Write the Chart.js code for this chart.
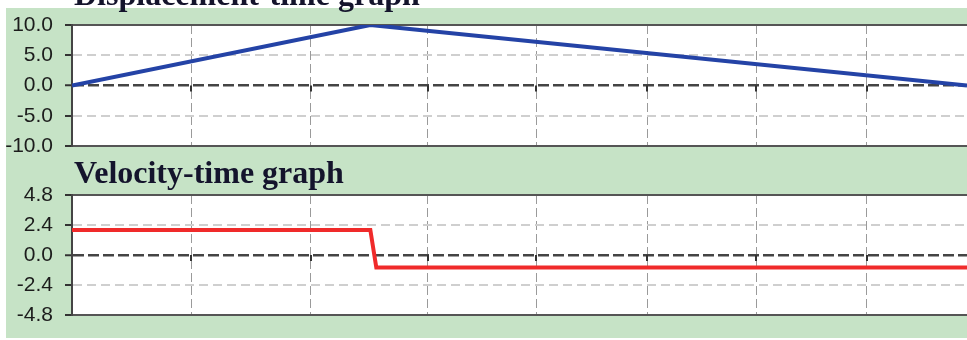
<!DOCTYPE html>
<html lang="en">
<head>
<meta charset="UTF-8">
<title>Displacement-time and velocity-time graphs</title>
<script src="https://cdn.jsdelivr.net/npm/chart.js@4.4.0/dist/chart.umd.min.js"></script>
<style>
    html, body { margin: 0; padding: 0; background: #fff; overflow: hidden; }
    body { width: 967px; height: 340px; position: relative; }
    .panel { position: absolute; left: 6px; top: 8px; width: 961px; height: 330px; background: #c6e3c6; }
    .title {
        position: absolute;
        left: 74px;
        font: bold 32px "Liberation Serif", "Times New Roman", serif;
        line-height: 32px;
        color: #14142c;
        white-space: nowrap;
        z-index: 2;
    }
    .box { position: absolute; left: 0; }
    #dispBox { top: -1px; }
    #velBox { top: 169px; }
</style>
</head>
<body>
<div class="panel"></div>
<div class="title" style="top:-22px">Displacement-time graph</div>
<div class="title" style="top:156px">Velocity-time graph</div>
<div class="box" id="dispBox"><canvas id="dispChart" width="967" height="173"></canvas></div>
<div class="box" id="velBox"><canvas id="velChart" width="967" height="172"></canvas></div>

<script>
// time axis (s)
const tMax = 15;
const gridTimes = [2.0, 4.0, 5.96, 7.78, 9.64, 11.47, 13.32];

// displacement (m)
const dispTimes = [0, 5, 15];
const dispValues = [0, 10, 0];
const dispTicks = [-10, -5, 0, 5, 10];

// velocity (m/s)
const velTimes = [0, 5, 5.1, 15];
const velValues = [2, 2, -1, -1];
const velTicks = [-4.8, -2.4, 0, 2.4, 4.8];

// white plot area on the green panel
const plotFill = {
    id: 'plotFill',
    beforeDraw(chart) {
        const { ctx, chartArea: a } = chart;
        ctx.save();
        ctx.fillStyle = '#fff';
        ctx.fillRect(a.left, a.top, a.right - a.left, a.bottom - a.top);
        ctx.restore();
    }
};

// short marks hanging under the zero line at each time gridline
const zeroTicks = {
    id: 'zeroTicks',
    beforeDatasetsDraw(chart) {
        const { ctx, scales: { x, y } } = chart;
        const y0 = y.getPixelForValue(0);
        ctx.save();
        ctx.strokeStyle = '#333';
        ctx.lineWidth = 2;
        x.ticks.forEach(t => {
            const px = Math.round(x.getPixelForValue(t.value));
            ctx.beginPath();
            ctx.moveTo(px, y0);
            ctx.lineTo(px, y0 + 6);
            ctx.stroke();
        });
        ctx.restore();
    }
};

function makeChart(id, times, values, ticks, color) {
    const lo = ticks[0], hi = ticks[ticks.length - 1];
    const isZero = c => c.tick && Math.abs(c.tick.value) < 1e-9;
    const isEdge = c => c.tick && (Math.abs(c.tick.value - lo) < 1e-9 || Math.abs(c.tick.value - hi) < 1e-9);

    return new Chart(document.getElementById(id), {
        type: 'line',
        data: {
            datasets: [{
                data: times.map((t, i) => ({ x: t, y: values[i] })),
                borderColor: color,
                borderWidth: 4,
                pointRadius: 0,
                tension: 0
            }]
        },
        options: {
            responsive: false,
            animation: false,
            layout: { padding: { top: 26, bottom: 26, left: 0, right: 0 } },
            plugins: { legend: { display: false }, tooltip: { enabled: false } },
            scales: {
                x: {
                    type: 'linear',
                    min: 0,
                    max: tMax,
                    afterBuildTicks: s => { s.ticks = gridTimes.map(v => ({ value: v })); },
                    afterFit: s => { s.height = 0; },
                    ticks: { display: false },
                    grid: { color: '#9a9a9a', lineWidth: 1, drawTicks: false },
                    border: { display: true, color: '#555', width: 2, dash: [9, 4] }
                },
                y: {
                    min: lo,
                    max: hi,
                    afterBuildTicks: s => { s.ticks = ticks.map(v => ({ value: v })); },
                    afterFit: s => { s.width = 72; },
                    ticks: {
                        padding: 12,
                        color: '#1c1c1c',
                        font: { family: '"Liberation Sans", Arial, sans-serif', size: 21 },
                        callback: v => Number(v).toFixed(1)
                    },
                    grid: {
                        color: c => isEdge(c) ? '#555' : (isZero(c) ? '#444' : '#cfcfcf'),
                        lineWidth: c => isZero(c) ? 2.5 : 2,
                        tickLength: 7,
                        tickColor: '#333',
                        tickWidth: 2,
                        tickBorderDash: []
                    },
                    border: {
                        display: true,
                        color: '#444',
                        width: 2,
                        dash: c => isEdge(c) ? [] : (isZero(c) ? [11, 4] : [9, 5])
                    }
                }
            }
        },
        plugins: [plotFill, zeroTicks]
    });
}

makeChart('dispChart', dispTimes, dispValues, dispTicks, '#2443a6');
makeChart('velChart', velTimes, velValues, velTicks, '#f02a2a');
</script>
</body>
</html>
